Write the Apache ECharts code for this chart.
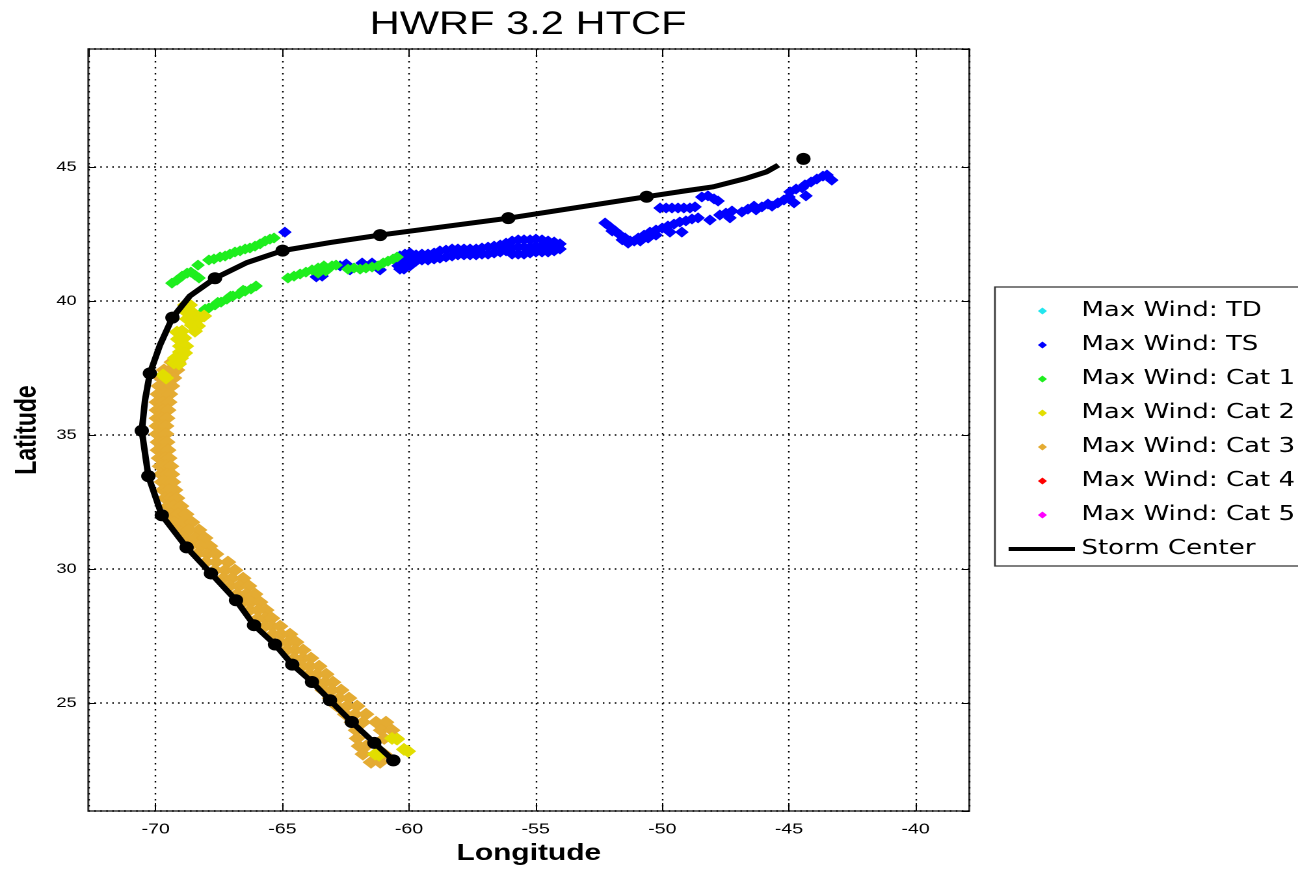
<!DOCTYPE html>
<html>
<head>
<meta charset="utf-8">
<script src="https://cdn.jsdelivr.net/npm/echarts@6/dist/echarts.min.js"></script>
<style>
html,body{margin:0;padding:0;background:#fff;overflow:hidden;}
#chart{width:998px;height:869px;transform:scaleX(1.3006);transform-origin:0 0;}
</style>
</head>
<body>
<div id="chart"></div>
<script>
// ---- Data (longitude, latitude) ----
const titleText = 'HWRF 3.2 HTCF';
const seriesNames = ['Max Wind: TD','Max Wind: TS','Max Wind: Cat 1','Max Wind: Cat 2','Max Wind: Cat 3','Max Wind: Cat 4','Max Wind: Cat 5','Storm Center'];
const xRange = [-72.66, -37.88];
const yRange = [20.98, 49.40];

const tdPoints = [];
const cat4Points = [];
const cat5Points = [];

const tsPoints = [
  [-64.90,42.57],
  [-63.66,40.90],[-63.43,40.93],[-62.72,41.31],[-62.48,41.38],[-62.33,41.16],[-61.85,41.42],[-61.46,41.42],[-61.14,41.16],[-60.43,41.31],[-60.20,41.19],
  [-60.36,41.68],[-60.36,41.42],[-60.36,41.19],
  [-60.16,41.75],[-60.16,41.46],
  [-59.96,41.79],[-59.96,41.53],[-59.96,41.31],
  [-59.72,41.72],[-59.72,41.49],
  [-59.49,41.75],[-59.49,41.53],
  [-59.25,41.75],[-59.25,41.53],
  [-59.01,41.79],[-59.01,41.57],
  [-58.78,41.87],[-58.78,41.60],
  [-58.54,41.90],[-58.54,41.64],
  [-58.30,41.94],[-58.30,41.68],
  [-58.07,41.94],[-58.07,41.72],
  [-57.83,41.94],[-57.83,41.72],
  [-57.59,41.94],[-57.59,41.72],
  [-57.35,41.94],[-57.35,41.72],
  [-57.12,41.98],[-57.12,41.75],
  [-56.88,42.01],[-56.88,41.75],
  [-56.64,42.05],[-56.64,41.79],
  [-56.40,42.09],[-56.40,41.83],
  [-56.17,42.16],[-56.17,41.87],
  [-55.93,42.24],[-55.93,41.98],[-55.93,41.75],
  [-55.69,42.28],[-55.69,42.01],[-55.69,41.75],
  [-55.46,42.28],[-55.46,42.01],[-55.46,41.75],
  [-55.22,42.28],[-55.22,42.01],[-55.22,41.79],
  [-54.99,42.31],[-54.99,42.05],[-54.99,41.83],
  [-54.75,42.28],[-54.75,42.05],[-54.75,41.83],
  [-54.51,42.24],[-54.51,42.01],[-54.51,41.83],
  [-54.27,42.20],[-54.27,42.01],[-54.27,41.87],
  [-54.04,42.13],[-54.04,41.94],
  [-52.26,42.91],[-52.06,42.76],[-51.86,42.61],[-51.66,42.46],[-51.47,42.35],[-51.27,42.24],[-51.11,42.24],
  [-51.98,42.61],[-51.58,42.28],[-51.35,42.16],
  [-50.95,42.35],[-50.72,42.46],[-50.49,42.57],[-50.25,42.65],[-50.01,42.72],[-49.78,42.80],[-49.54,42.87],[-49.31,42.95],[-49.07,42.99],[-48.83,43.06],[-48.59,43.10],
  [-50.87,42.24],[-50.56,42.35],[-50.25,42.46],
  [-49.70,42.57],[-49.23,42.57],
  [-50.09,43.47],[-49.85,43.47],[-49.62,43.47],[-49.38,43.47],[-49.15,43.47],[-48.91,43.47],[-48.71,43.51],
  [-48.44,43.88],[-48.20,43.92],[-47.96,43.81],[-47.80,43.73],
  [-48.12,43.02],[-47.73,43.21],[-47.49,43.28],[-47.25,43.36],[-47.33,43.10],
  [-46.86,43.32],[-46.62,43.43],[-46.38,43.54],
  [-46.30,43.40],[-46.07,43.51],[-45.83,43.62],
  [-45.67,43.54],[-45.44,43.66],[-45.20,43.77],[-45.00,43.88],
  [-44.80,43.66],
  [-44.96,44.07],[-44.72,44.18],[-44.48,44.22],
  [-44.33,43.92],
  [-44.37,44.33],[-44.13,44.44],[-43.90,44.55],[-43.66,44.66],[-43.50,44.70],
  [-43.31,44.51]
];

const cat1Points = [
  [-69.36,40.67],[-69.16,40.78],[-68.96,40.93],[-68.76,41.04],[-68.61,41.08],[-68.45,40.97],[-68.29,40.86],
  [-68.33,41.34],
  [-67.90,41.53],[-67.70,41.57],[-67.46,41.64],[-67.26,41.68],[-67.07,41.75],[-66.87,41.83],[-66.67,41.87],[-66.47,41.94],[-66.28,41.98],[-66.08,42.05],[-65.88,42.13],[-65.68,42.24],[-65.49,42.31],[-65.33,42.35],
  [-68.13,39.59],[-67.90,39.74],[-67.66,39.85],[-67.42,39.96],[-67.19,40.07],[-66.95,40.19],[-66.71,40.26],[-66.47,40.37],[-66.24,40.45],[-66.04,40.56],
  [-68.05,39.70],[-67.55,39.95],[-67.05,40.18],[-66.55,40.40],
  [-64.78,40.86],[-64.54,40.93],[-64.30,41.01],[-64.07,41.08],[-63.83,41.16],[-63.59,41.23],[-63.59,41.04],[-63.36,41.31],[-63.28,41.12],[-63.04,41.31],[-62.88,41.34],
  [-62.41,41.19],[-62.17,41.23],[-61.93,41.19],[-61.70,41.23],[-61.46,41.27],[-61.22,41.31],[-61.02,41.42],[-60.83,41.49],[-60.63,41.57],[-60.47,41.64]
];

const cat2Points = [
  [-68.84,39.85],[-68.65,39.85],[-68.80,39.59],[-68.57,39.59],[-68.76,39.33],[-68.49,39.37],[-68.25,39.37],[-68.09,39.44],[-68.57,39.10],[-68.33,39.07],[-68.45,38.88],
  [-69.16,38.84],[-68.96,38.88],[-69.12,38.58],[-68.88,38.62],[-69.04,38.32],[-68.80,38.32],[-69.04,38.10],[-68.84,38.06],[-69.24,37.87],[-69.00,37.87],[-69.28,37.69],[-69.08,37.65],
  [-69.71,37.24],[-69.59,37.13],
  [-60.67,23.69],[-60.47,23.66],[-60.20,23.28],[-60.04,23.21],[-61.34,23.10],[-61.18,23.06]
];

const cat3Points = [
  [-69.36,37.72],[-69.12,37.72],
  [-69.67,37.43],[-69.44,37.43],[-69.16,37.43],
  [-69.79,37.13],[-69.51,37.13],[-69.28,37.13],
  [-69.87,36.83],[-69.63,36.83],[-69.36,36.83],
  [-69.91,36.53],[-69.67,36.53],[-69.44,36.53],
  [-69.95,36.23],[-69.71,36.23],[-69.47,36.23],
  [-69.95,35.93],[-69.71,35.93],[-69.51,35.93],
  [-69.95,35.63],[-69.75,35.63],[-69.55,35.63],
  [-69.95,35.34],[-69.75,35.34],[-69.59,35.34],
  [-69.95,35.04],[-69.75,35.04],[-69.59,35.04],
  [-69.91,34.74],[-69.71,34.74],[-69.55,34.74],
  [-69.91,34.44],[-69.67,34.44],[-69.51,34.44],
  [-69.87,34.14],[-69.63,34.14],[-69.47,34.14],
  [-69.83,33.84],[-69.59,33.84],[-69.40,33.84],
  [-69.79,33.54],[-69.55,33.54],[-69.36,33.54],
  [-69.75,33.25],[-69.51,33.25],[-69.32,33.25],
  [-69.71,32.95],[-69.47,32.95],[-69.24,32.95],
  [-69.63,32.65],[-69.40,32.65],[-69.16,32.65],
  [-69.51,32.35],[-69.28,32.35],[-69.00,32.35],
  [-69.40,32.05],[-69.12,32.05],[-68.80,32.05],
  [-69.28,31.75],[-68.92,31.75],[-68.57,31.75],
  [-69.12,31.46],[-68.69,31.46],[-68.29,31.46],
  [-68.88,31.16],[-68.45,31.16],[-68.05,31.16],
  [-68.65,30.86],[-68.21,30.86],[-67.86,30.86],
  [-68.37,30.56],[-67.97,30.56],[-67.62,30.56],
  [-68.01,30.26],[-67.62,30.26],[-67.15,30.26],
  [-67.66,29.96],[-67.26,29.96],[-66.87,29.96],
  [-67.34,29.66],[-66.99,29.66],[-66.55,29.66],
  [-67.07,29.37],[-66.71,29.37],[-66.32,29.37],
  [-66.79,29.07],[-66.43,29.07],[-66.08,29.07],
  [-66.55,28.77],[-66.24,28.77],[-65.88,28.77],
  [-66.28,28.47],[-65.96,28.47],[-65.64,28.47],
  [-65.96,28.17],[-65.68,28.17],[-65.41,28.17],
  [-65.68,27.87],[-65.41,27.87],[-65.09,27.87],
  [-65.37,27.57],[-65.05,27.57],[-64.70,27.57],
  [-65.09,27.28],[-64.77,27.28],[-64.46,27.28],
  [-64.82,26.98],[-64.50,26.98],[-64.18,26.98],
  [-64.54,26.68],[-64.18,26.68],[-63.87,26.68],
  [-64.22,26.38],[-63.91,26.38],[-63.55,26.38],
  [-63.94,26.08],[-63.63,26.08],[-63.27,26.08],
  [-63.63,25.78],[-63.31,25.78],[-63.00,25.78],
  [-63.40,25.49],[-63.04,25.49],[-62.68,25.49],
  [-63.12,25.19],[-62.76,25.19],[-62.37,25.19],
  [-62.84,24.89],[-62.45,24.89],[-62.05,24.89],
  [-62.52,24.59],[-62.13,24.59],[-61.70,24.59],
  [-62.25,24.29],[-61.82,24.29],[-61.30,24.29],[-60.91,24.29],
  [-62.09,23.99],[-61.10,23.99],[-60.67,23.99],
  [-62.05,23.69],[-60.98,23.69],[-60.51,23.69],
  [-61.97,23.40],[-61.70,23.40],
  [-61.82,23.10],[-60.98,23.10],
  [-61.50,22.80],[-61.14,22.80]
];

const stormTrack = [
  [-60.62,22.87],[-61.37,23.52],[-62.26,24.30],[-63.12,25.11],[-63.83,25.79],[-64.61,26.44],[-65.29,27.19],
  [-66.12,27.91],[-66.83,28.84],[-67.82,29.84],[-68.78,30.81],[-69.76,32.01],[-70.29,33.47],[-70.55,35.16],
  [-70.42,36.31],[-70.23,37.30],[-69.83,38.36],[-69.34,39.38],[-68.65,40.19],[-67.66,40.85],[-66.41,41.43],
  [-64.99,41.88],[-63.12,42.18],[-61.14,42.46],[-56.08,43.09],[-50.62,43.89],[-49.30,44.08],[-47.99,44.26],
  [-46.67,44.58],[-45.88,44.82],[-45.42,45.07]
];

const stormMarkers = [
  [-60.62,22.87],[-61.37,23.52],[-62.26,24.30],[-63.12,25.11],[-63.83,25.79],[-64.61,26.44],[-65.29,27.19],
  [-66.12,27.91],[-66.83,28.84],[-67.82,29.84],[-68.78,30.81],[-69.76,32.01],[-70.29,33.47],[-70.55,35.16],
  [-70.23,37.30],[-69.34,39.38],[-67.66,40.85],[-64.99,41.88],[-61.14,42.46],[-56.08,43.09],[-50.62,43.89],
  [-44.43,45.30]
];

const colors = ['#22e6ee','#0000ff','#1eee1e','#e2de00','#e4ab32','#ff0000','#ff00ff','#000000'];

// ---- Chart ----
const chart = echarts.init(document.getElementById('chart'), null, {renderer:'canvas', devicePixelRatio:2});
const FONT = 'Liberation Sans, Arial, sans-serif';
// legend icons drawn in a 51x7 box (tiny corner specks fix the box extent)
const legendDiamond = 'path://M0,0L0.01,0L0,0.01Z M51,7L50.99,7L51,6.99Z M26,0L29.5,3.5L26,7L22.5,3.5Z';
const legendLine = 'path://M0,0L0.01,0L0,0.01Z M51,7L50.99,7L51,6.99Z M0,1.5L51,1.5L51,5.5L0,5.5Z';

function windSeries(i, data, size, z) {
  return {
    name: seriesNames[i], type: 'scatter', data: data,
    symbol: 'diamond', symbolSize: size,
    itemStyle: {color: colors[i], opacity: 1}, z: z, silent: true
  };
}

const axisTickX = {show:true, inside:true, length:8, lineStyle:{color:'#000', width:1}};
const axisTickY = {show:true, inside:true, length:6, lineStyle:{color:'#000', width:1}};

const legendData = seriesNames.map((n, i) => ({name: n, icon: i < 7 ? legendDiamond : legendLine}));

const option = {
  animation: false,
  backgroundColor: '#fff',
  title: {
    text: titleText, left: 406, top: 9, padding: 0, textAlign: 'center',
    textStyle: {fontFamily: FONT, fontSize: 32, fontWeight: 'normal', color: '#000'}
  },
  legend: {
    data: legendData, orient: 'vertical', left: 765, top: 287,
    itemWidth: 51, itemHeight: 7, itemGap: 0,
    padding: [7, 40, 0, 10.5],
    borderColor: '#333', borderWidth: 1.3, backgroundColor: '#fff',
    symbolKeepAspect: false,
    textStyle: {fontFamily: 'DejaVu Sans, Verdana, sans-serif', fontSize: 20, color: '#000', lineHeight: 34},
    selectedMode: false
  },
  grid: {left: 67.9, right: 252.7, top: 49, bottom: 58, show: true, borderColor: '#333', borderWidth: 1.5, outerBoundsMode: 'none', containLabel: false},
  xAxis: [{
    type: 'value', position: 'bottom', min: xRange[0], max: xRange[1],
    splitNumber: 7, minInterval: 5, maxInterval: 5,
    axisLine: {show: false}, axisTick: axisTickX,
    axisLabel: {fontFamily: FONT, fontSize: 15, color: '#000', margin: 11, showMinLabel: false, showMaxLabel: false},
    splitLine: {show: true, lineStyle: {color: '#000', width: 1.2, type: [1.5, 4.5]}},
    name: 'Longitude', nameLocation: 'middle', nameGap: 31,
    nameTextStyle: {fontFamily: FONT, fontSize: 23, fontWeight: 'bold', color: '#000'}
  },{
    type: 'value', position: 'top', min: xRange[0], max: xRange[1],
    splitNumber: 7, minInterval: 5, maxInterval: 5,
    axisLine: {show: false}, axisTick: axisTickX, axisLabel: {show: false}, splitLine: {show: false}
  }],
  yAxis: [{
    type: 'value', position: 'left', min: yRange[0], max: yRange[1],
    splitNumber: 6, minInterval: 5, maxInterval: 5,
    axisLine: {show: false}, axisTick: axisTickY,
    axisLabel: {fontFamily: FONT, fontSize: 14, color: '#000', margin: 9, showMinLabel: false, showMaxLabel: false},
    splitLine: {show: true, lineStyle: {color: '#000', width: 1.5, type: [1.2, 3.4]}},
    name: 'Latitude', nameLocation: 'middle', nameGap: 35,
    nameTextStyle: {fontFamily: FONT, fontSize: 23, fontWeight: 'bold', color: '#000'}
  },{
    type: 'value', position: 'right', min: yRange[0], max: yRange[1],
    splitNumber: 6, minInterval: 5, maxInterval: 5,
    axisLine: {show: false}, axisTick: axisTickY, axisLabel: {show: false}, splitLine: {show: false}
  }],
  series: [
    windSeries(0, tdPoints, [10.5, 11], 2),
    windSeries(1, tsPoints, [10.5, 11], 2),
    windSeries(2, cat1Points, [10.5, 11], 3),
    windSeries(3, cat2Points, [12.5, 13], 3),
    windSeries(4, cat3Points, [13, 13], 2),
    windSeries(5, cat4Points, [10.5, 11], 2),
    windSeries(6, cat5Points, [10.5, 11], 2),
    {
      name: seriesNames[7], type: 'line', data: stormTrack, symbol: 'none',
      lineStyle: {color: '#000', width: 5}, itemStyle: {color: '#000'}, z: 5, silent: true
    },
    {
      name: 'Storm Center positions', type: 'scatter', data: stormMarkers, symbol: 'circle', symbolSize: [11, 12],
      itemStyle: {color: '#000', opacity: 1}, z: 6, silent: true
    }
  ]
};
chart.setOption(option);
</script>
</body>
</html>
